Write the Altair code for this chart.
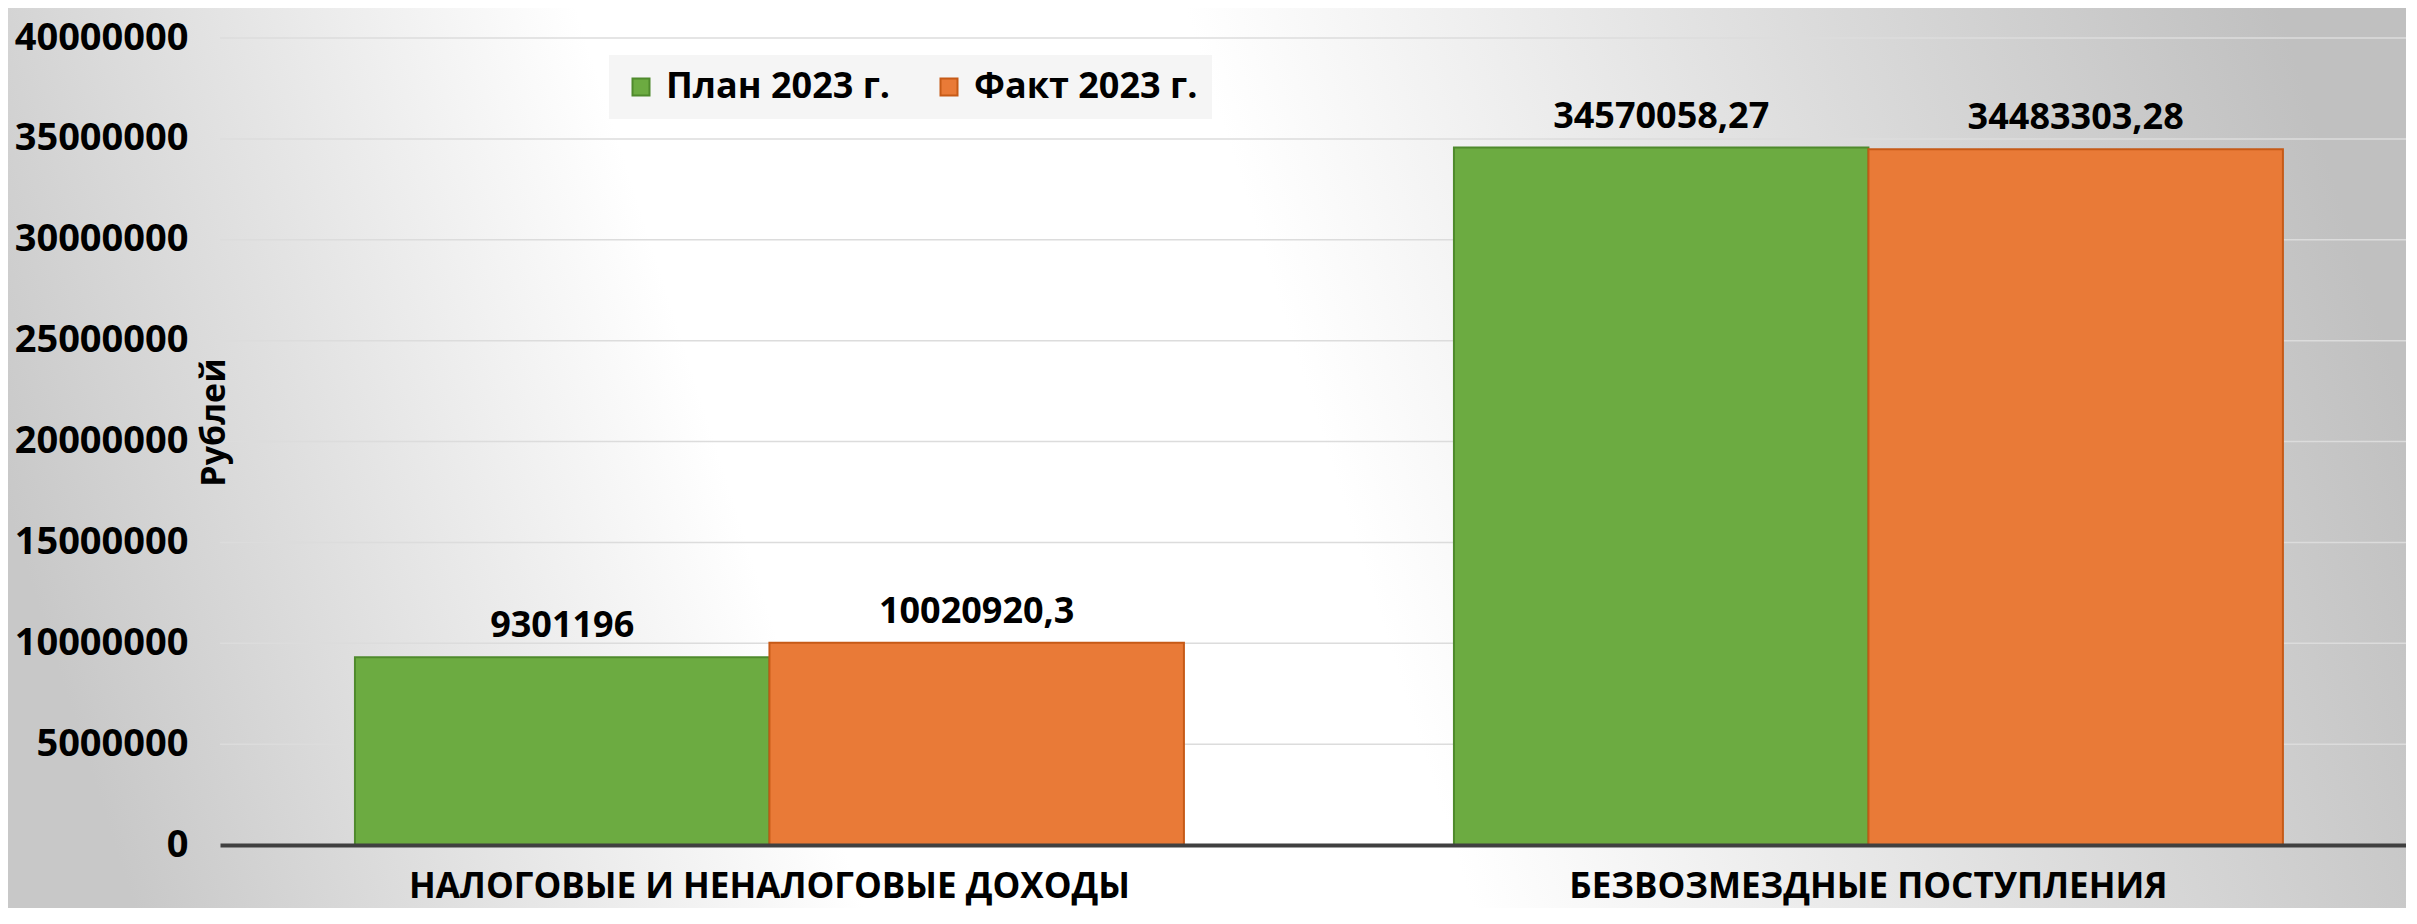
import altair as alt
import pandas as pd

# ---- data ----
categories = ["НАЛОГОВЫЕ И НЕНАЛОГОВЫЕ ДОХОДЫ", "БЕЗВОЗМЕЗДНЫЕ ПОСТУПЛЕНИЯ"]
series = ["План 2023 г.", "Факт 2023 г."]
plan_values = [9301196, 34570058.27]
fact_values = [10020920.3, 34483303.28]
y_tick_values = [0, 5000000, 10000000, 15000000, 20000000, 25000000, 30000000, 35000000, 40000000]

rows = []
for s, vals in zip(series, [plan_values, fact_values]):
    for c, v in zip(categories, vals):
        rows.append({"category": c, "series": s, "value": v,
                     "label": str(v).replace(".", ",")})
df = pd.DataFrame(rows)
grid_df = pd.DataFrame({"value": y_tick_values[1:]})

FONT = "Open Sans"
W, H = 2186, 807
PAD = {"left": 212, "top": 30, "right": 0, "bottom": 63}

fill_colors = ["#6cab41", "#e97a37"]
stroke_colors = ["#4f8a2c", "#c65a17"]

x_enc = alt.X(
    "category:N", sort=categories,
    scale=alt.Scale(paddingInner=0.2457, paddingOuter=0.1174, align=0.523),
    axis=alt.Axis(title=None, labelAngle=0, labelFont=FONT, labelFontSize=35,
                  labelFontWeight="bold", labelColor="#000000", labelPadding=24,
                  ticks=False, tickSize=0, domain=True, domainColor="#404040",
                  domainWidth=4, labelLimit=0, grid=False, zindex=2),
)
xoff_enc = alt.XOffset("series:N", sort=series,
                       scale=alt.Scale(paddingInner=0, paddingOuter=0))
y_scale = alt.Scale(domain=[0, 40000000], nice=False)
y_enc = alt.Y(
    "value:Q",
    scale=y_scale,
    axis=alt.Axis(values=y_tick_values, format="d", title="Рублей",
                  labelFont=FONT, labelFontSize=38, labelFontWeight="bold",
                  labelColor="#000000", labelPadding=32, ticks=False, tickSize=0,
                  domain=False, grid=False, zindex=2,
                  titleFont=FONT, titleFontSize=34, titleFontWeight="bold",
                  titleColor="#000000", titleAngle=270, titleX=-6, titleY=384,
                  titleAlign="center", titleBaseline="middle"),
)

legend_def = dict(title=None, orient="none", legendX=389, legendY=17,
                  direction="horizontal", symbolType="square", symbolSize=289,
                  symbolStrokeWidth=2, labelFont=FONT, labelFontSize=36,
                  labelFontWeight="bold", labelColor="#000000", labelOffset=7,
                  columnPadding=40, padding=14, fillColor="#f5f5f5", labelLimit=0,
                  zindex=3)

background = alt.Chart(pd.DataFrame({"k": [0]})).mark_rect(
    fill=alt.Gradient(
        gradient="linear",
        x1=0, y1=0.56, x2=1, y2=0.44,
        stops=[
            alt.GradientStop(color="#c8c8c8", offset=0),
            alt.GradientStop(color="#ffffff", offset=0.3),
            alt.GradientStop(color="#ffffff", offset=0.55),
            alt.GradientStop(color="#c0c0c0", offset=1),
        ],
    )
).encode(
    x=alt.value(-PAD["left"]), x2=alt.value(W),
    y=alt.value(-PAD["top"]), y2=alt.value(H + PAD["bottom"]),
)

gridlines = alt.Chart(grid_df).mark_rule(color="#dcdcdc", strokeWidth=1.5).encode(
    y=alt.Y("value:Q", scale=y_scale),
    x=alt.value(0), x2=alt.value(W),
)

bars = alt.Chart(df).mark_bar(strokeWidth=2).encode(
    x=x_enc,
    xOffset=xoff_enc,
    y=y_enc,
    color=alt.Color("series:N", sort=series,
                    scale=alt.Scale(domain=series, range=fill_colors),
                    legend=alt.Legend(**legend_def)),
    stroke=alt.Stroke("series:N", sort=series,
                      scale=alt.Scale(domain=series, range=stroke_colors),
                      legend=alt.Legend(**legend_def)),
)

labels = alt.Chart(df).mark_text(
    baseline="alphabetic", dy=-20, font=FONT, fontSize=36,
    fontWeight="bold", color="#000000",
).encode(
    x=alt.X("category:N", sort=categories),
    xOffset=alt.XOffset("series:N", sort=series),
    y=alt.Y("value:Q"),
    text="label:N",
)

chart = alt.layer(background, gridlines, bars, labels).properties(
    width=W, height=H, padding=PAD,
    autosize=alt.AutoSizeParams(type="none"),
).configure_view(stroke=None)

chart.save("out.html", embed_options={"renderer": "svg", "actions": False})
